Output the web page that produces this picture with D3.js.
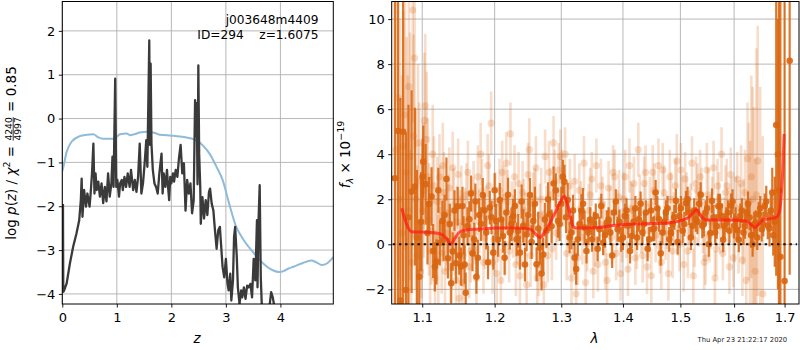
<!DOCTYPE html>
<html><head><meta charset="utf-8">
<script src="https://cdn.jsdelivr.net/npm/d3@7"></script>
<style>body{margin:0;background:#fff} svg{display:block} text{font-family:"DejaVu Sans",sans-serif}</style>
</head><body><svg id="c" width="800" height="350"></svg>
<script>
// ---------- LEFT PANEL DATA ----------
const zTicks = [0,1,2,3,4];
const lnpTicks = [-4,-3,-2,-1,0,1,2];
const priorZ = [0,0.02,0.08,0.17,0.32,0.45,0.57,0.66,0.75,0.94,1.06,1.18,1.24,1.32,1.42,1.55,1.7,1.79,2.0,2.16,2.3,2.4,2.46,2.59,2.70,2.82,2.94,3.06,3.19,3.28,3.37,3.5,3.68,3.86,3.98,4.06,4.15,4.24,4.4,4.57,4.66,4.76,4.86,4.97];
const priorV = [-1.2,-1.1,-0.76,-0.53,-0.4,-0.37,-0.36,-0.43,-0.46,-0.46,-0.36,-0.34,-0.38,-0.36,-0.32,-0.3,-0.33,-0.37,-0.39,-0.41,-0.44,-0.47,-0.5,-0.63,-0.8,-1.08,-1.4,-1.94,-2.47,-2.68,-2.85,-3.05,-3.3,-3.46,-3.5,-3.48,-3.42,-3.38,-3.3,-3.24,-3.28,-3.34,-3.3,-3.16];
const pzZ = [0.012,0.018,0.03,0.08,0.14,0.2,0.26,0.31,0.34,0.355,0.37,0.40,0.435,0.46,0.50,0.52,0.545,0.57,0.59,0.61,0.63,0.66,0.69,0.72,0.75,0.78,0.81,0.84,0.87,0.90,0.92,0.94,0.97,0.99,1.01,1.04,1.06,1.09,1.11,1.14,1.17,1.20,1.235,1.26,1.30,1.33,1.36,1.39,1.42,1.45,1.48,1.51,1.54,1.56,1.595,1.605,1.62,1.635,1.66,1.69,1.72,1.75,1.78,1.82,1.84,1.86,1.89,1.92,1.94,1.96,1.98,2.0,2.03,2.05,2.08,2.11,2.14,2.17,2.20,2.23,2.26,2.29,2.32,2.35,2.38,2.41,2.435,2.45,2.465,2.48,2.495,2.51,2.53,2.54,2.57,2.60,2.63,2.66,2.69,2.71,2.74,2.77,2.80,2.83,2.86,2.89,2.91,2.94,2.97,3.0,3.03,3.05,3.08,3.10,3.13,3.15,3.17,3.20,3.22,3.25,3.28,3.30,3.33,3.36,3.39,3.42,3.45,3.48,3.51,3.54,3.57,3.58,3.60,3.62,3.64,3.66,3.72,3.78,3.83,3.86,3.89,3.92,4.0,4.97];
const pzV = [-1.95,-3.95,-3.93,-3.76,-3.3,-2.92,-2.62,-2.32,-1.86,-1.37,-2.24,-1.63,-2.01,-1.71,-2.01,-1.71,-1.25,-0.57,-1.71,-1.25,-1.63,-1.44,-1.78,-1.48,-1.93,-1.56,-1.89,-1.25,-1.78,-1.48,-0.87,-1.56,0.91,-1.56,-1.4,-1.78,-1.48,-1.4,-1.63,-1.33,-1.56,-1.25,-1.56,-1.17,-1.63,-1.4,-1.67,-1.33,-0.57,-1.71,-1.48,-1.02,-0.49,-1.1,1.78,-0.6,1.25,-0.57,-1.17,-1.48,-1.56,-1.71,-1.25,-0.8,-1.71,-1.25,-1.56,-1.17,-1.56,-1.86,-1.33,-1.48,-1.25,-1.44,-1.17,-1.33,-0.9,-0.6,-1.25,-1.02,-2.1,-1.4,-1.71,-1.48,-2.16,-1.86,0.42,-0.4,0.35,-1.5,1.21,-0.8,-1.56,-2.4,-1.79,-2.28,-1.86,-2.2,-1.67,-1.6,-1.94,-2.09,-2.55,-2.97,-2.55,-2.47,-2.85,-3.39,-3.62,-3.2,-3.77,-3.92,-3.54,-4.15,-3.69,-2.7,-2.47,-3.16,-3.85,-4.23,-3.92,-4.08,-3.85,-4.11,-3.81,-3.85,-3.77,-4.08,-3.2,-3.69,-2.32,-3.85,-2.28,-1.52,-3.62,-4.3,-4.6,-4.5,-3.96,-4.08,-4.3,-4.6,-5.5,-6];

// ---------- RIGHT PANEL DATA ----------
const lamTicks = [1.1,1.2,1.3,1.4,1.5,1.6,1.7];
const fluxTicks = [-2,0,2,4,6,8,10];
const modelWave = [1.0732,1.086,1.1102,1.1236,1.1327,1.1381,1.1441,1.151,1.160,1.179,1.203,1.227,1.2518,1.2594,1.267,1.2746,1.2874,1.2978,1.3045,1.3108,1.3187,1.3241,1.3562,1.3834,1.4114,1.469,1.4988,1.517,1.5292,1.5384,1.5477,1.5916,1.6237,1.6335,1.640,1.6466,1.6565,1.6832,1.690,1.694,1.697,1.699];
const modelFlux = [1.6,0.56,0.53,0.47,0.27,0.0,0.27,0.56,0.64,0.68,0.72,0.72,0.68,0.5,0.3,0.56,1.23,1.82,2.14,1.67,0.78,0.72,0.74,0.83,0.89,0.93,1.04,1.23,1.53,1.23,1.08,1.08,1.04,0.86,0.74,0.86,1.08,1.2,1.5,2.4,3.6,4.9];

// grism A (solid points)
const darkWave = [1.0645,1.0685,1.0715,1.075,1.0787,1.082,1.086,1.0904,1.093,1.096,1.0985,1.1013,1.1045,1.109,1.1124,1.1168,1.119,1.1235,1.127,1.130,1.1345,1.139,1.141,1.1456,1.1479,1.1526,1.156,1.159,1.164,1.1663,1.171,1.174,1.178,1.183,1.188,1.193,1.198,1.202,1.2075,1.212,1.217,1.222,1.227,1.232,1.237,1.242,1.247,1.252,1.257,1.262,1.267,1.272,1.277,1.282,1.288,1.295,1.300,1.305,1.310,1.316,1.321,1.326,1.332,1.337,1.343,1.349,1.355,1.361,1.367,1.373,1.379,1.385,1.391,1.397,1.403,1.409,1.415,1.421,1.427,1.433,1.439,1.445,1.451,1.456,1.462,1.468,1.474,1.480,1.486,1.492,1.498,1.504,1.510,1.516,1.522,1.528,1.534,1.540,1.546,1.552,1.558,1.564,1.570,1.576,1.582,1.588,1.594,1.600,1.606,1.612,1.618,1.624,1.630,1.636,1.642,1.648,1.654,1.660,1.666,1.672,1.677,1.683,1.6915,1.700,1.7104];
const darkFlux = [2.93,5.03,-2.5,5.0,-2.03,1.2,2.34,2.56,0.3,-1.44,1.0,3.67,2.67,1.79,2.12,-1.0,-0.78,0.06,1.04,1.3,-0.62,-1.73,-0.32,-0.84,1.69,-0.99,0.4,-2.15,1.11,2.26,0.21,-1.44,1.3,2.19,0.52,1.63,-0.37,1.04,1.97,0.37,1.41,0.52,1.26,0.22,-0.37,0.82,0.44,2.19,1.04,-0.89,-0.15,-0.45,0.6,1.34,2.7,1.04,1.8,2.78,1.97,0.52,-0.6,0.22,1.5,0.74,0.52,0.22,1.26,0.67,0.07,0.96,0.52,1.41,0.67,0.22,1.26,0.82,0.37,1.6,1.11,0.52,1.41,0.22,0.67,2.3,1.11,0.52,1.41,0.22,0.9,1.93,1.26,0.6,1.82,1.41,0.82,1.11,1.8,0.82,1.41,0.0,1.93,0.52,1.69,1.26,0.82,1.41,1.71,0.82,0.64,1.26,0.52,1.41,1.19,0.0,0.96,1.34,0.67,1.71,0.82,1.5,0.4,5.3,-0.55,-1.63,8.15];
const darkErr = [9,9,9,8,7,5,4.5,3.5,3,2.5,2.2,1.6,1.8,1.2,1.3,1.1,1.0,1.0,0.9,0.9,0.9,0.9,0.85,0.9,0.85,0.85,0.85,0.9,0.8,0.8,
 0.75,0.75,0.75,0.75,0.75,0.75,0.75,0.75,0.75,0.75,0.75,0.75,0.75,0.75,0.75,0.75,0.75,0.75,0.75,0.75,0.75,0.75,0.75,0.75,0.75,0.75,0.75,0.75,0.75,0.75,0.75,0.75,0.75,0.75,
 0.55,0.55,0.55,0.55,0.55,0.55,0.55,0.55,0.55,0.55,0.55,0.55,0.55,0.55,0.55,0.55,0.55,0.55,0.55,0.55,0.55,0.55,0.55,0.55,0.55,0.55,0.55,0.55,0.55,0.55,0.55,0.55,0.55,0.55,0.55,0.55,0.55,0.55,0.55,0.55,0.55,0.55,0.55,0.55,0.55,0.55,0.55,0.55,0.55,0.55,0.55,0.55,0.55,0.55,
 0.6,0.7,0.9,6.7,15,15,9.5];
const darkWave2 = [1.1005,1.107,1.1145,1.1215,1.1285,1.1325,1.137,1.1435,1.150,1.1545,1.1575,1.1615,1.1685,1.1725,1.176,1.1805,1.1855,1.1905,1.1955,1.200,1.205,1.2095,1.2145,1.2195,1.2245,1.2295,1.2345,1.2395,1.2445,1.2495,1.2545,1.2595,1.2645,1.2695,1.2745,1.2795,1.285,1.2915,1.2975,1.3025,1.3075,1.313,1.3185,1.3235,1.329,1.3345,1.340,1.346,1.352,1.358,1.364,1.370,1.376,1.382,1.388,1.394,1.400,1.406,1.412,1.418,1.424,1.430,1.436,1.442,1.448,1.4535,1.459,1.465,1.471,1.477,1.483,1.489,1.495,1.501,1.507,1.513,1.519,1.525,1.531,1.537,1.543,1.549,1.555,1.561,1.567,1.573,1.579,1.585,1.591,1.597,1.603,1.609,1.615,1.621,1.627,1.633,1.639,1.645,1.651,1.657,1.663,1.6695,1.675,1.680,1.6865,1.6885];
const darkFlux2 = [3.0,0.5,-0.3,2.4,0.2,2.9,0.9,1.5,-0.5,1.7,-0.9,0.8,-0.4,1.9,-0.6,0.9,1.5,-0.8,1.2,2.4,0.2,1.1,-0.6,2.2,0.9,1.7,0.6,1.9,-0.9,1.3,0.1,1.8,0.7,-1.3,1.1,2.0,0.8,2.4,0.9,3.0,1.2,0.3,1.5,-1.1,0.9,1.8,-0.3,1.1,0.9,-0.2,1.7,0.4,1.1,-0.5,1.9,1.0,0.3,1.5,-0.3,1.0,0.3,1.8,0.9,-0.2,1.5,0.7,1.6,-0.4,1.0,1.6,0.5,1.2,0.1,1.6,0.9,2.0,0.3,1.5,1.0,2.2,0.9,1.6,0.5,1.2,0.8,1.7,0.2,1.1,0.6,1.9,1.1,0.2,1.5,0.8,1.8,0.4,0.9,0.3,1.6,0.9,1.9,0.7,2.3,1.0,4.0,2.4];
const darkErr2 = [1.7,1.4,1.2,1.0,0.95,0.95,0.9,0.9,0.85,0.85,0.85,0.85,0.8,0.8,0.8,0.75,0.75,0.75,0.75,0.75,
 0.75,0.75,0.75,0.75,0.75,0.75,0.75,0.75,0.75,0.75,0.75,0.75,0.75,0.75,0.75,0.75,0.75,0.75,0.75,0.75,
 0.7,0.7,0.7,0.7,0.7,0.7,
 0.55,0.55,0.55,0.55,0.55,0.55,0.55,0.55,0.55,0.55,0.55,0.55,0.55,0.55,0.55,0.55,0.55,0.55,0.55,0.55,0.55,0.55,0.55,0.55,0.55,0.55,0.55,0.55,0.55,0.55,0.55,0.55,0.55,0.55,0.55,0.55,0.55,0.55,0.55,0.55,0.55,0.55,0.55,0.55,0.55,0.55,0.55,0.55,0.55,0.55,0.55,0.55,0.55,0.55,
 0.7,0.8,1.1,2.0,6,9];

// grism B (faint points)
const lightWave = [1.066,1.071,1.0755,1.0775,1.081,1.084,1.0875,1.090,1.093,1.096,1.099,1.102,1.104,1.106,1.109,1.112,1.114,1.117,1.120,1.123,1.126,1.129,1.132,1.135,1.138,1.141,1.144,1.147,1.150,1.153,1.156,1.160,1.164,1.168,1.172,1.176,1.180,1.184,1.188,1.192,1.195,1.199,1.203,1.207,1.211,1.215,1.219,1.223,1.227,1.231,1.235,1.239,1.243,1.247,1.251,1.255,1.259,1.263,1.267,1.271,1.275,1.279,1.283,1.288,1.292,1.296,1.301,1.306,1.311,1.316,1.321,1.326,1.331,1.336,1.341,1.346,1.351,1.356,1.361,1.366,1.371,1.376,1.381,1.386,1.391,1.396,1.401,1.406,1.411,1.416,1.421,1.426,1.431,1.436,1.441,1.446,1.451,1.456,1.461,1.466,1.471,1.476,1.481,1.486,1.491,1.496,1.501,1.506,1.511,1.516,1.521,1.526,1.531,1.536,1.541,1.546,1.551,1.556,1.561,1.566,1.571,1.576,1.581,1.586,1.591,1.596,1.601,1.606,1.611,1.616,1.621,1.626,1.631,1.636,1.641,1.646,1.651,1.656,1.661,1.666,1.671,1.676,1.681,1.687,1.689,1.692,1.696,1.699];
const lightFlux = [4.2,2.0,4.35,5.75,1.5,3.9,10.4,8.27,-0.5,2.8,0.8,2.4,6.15,4.66,1.1,0.6,4.0,-1.5,1.9,3.0,-0.4,2.3,0.5,1.4,-1.0,3.4,0.2,1.0,-2.4,2.0,-0.5,2.2,-1.0,1.6,0.5,3.0,4.0,-0.8,1.2,2.6,5.38,0.2,-1.3,2.4,3.2,0.0,1.9,4.9,0.8,-0.9,2.7,0.4,1.5,-1.8,4.2,0.9,2.0,-1.5,1.3,0.1,3.9,-0.5,2.2,4.5,0.5,3.3,3.0,4.0,1.0,-1.5,2.8,-0.6,1.6,3.6,0.0,2.2,-1.2,3.5,0.9,1.8,-0.8,2.5,0.3,3.0,1.2,-1.3,2.0,0.6,3.5,1.5,-0.6,4.2,0.8,2.7,-1.0,1.8,3.2,0.4,3.5,-0.8,2.3,1.0,3.0,-0.3,2.6,0.7,3.3,-0.9,2.0,1.2,3.6,0.2,2.4,3.0,0.8,-0.6,2.2,1.0,3.4,-0.2,2.0,4.0,0.9,2.6,-1.0,1.8,0.4,2.9,1.3,-0.7,2.3,3.8,0.6,2.0,-1.2,3.7,1.0,-2.2,2.4,0.3,3.0,4.4,8.2,7.8,6.3,2.0,4.8,-1.8];
const lightErr = [8,8,6,6,6,5.5,5,4,4,3.5,3.2,3,3.2,3,2.5,2.4,2.2,2.1,2.0,1.9,1.8,1.8,1.7,1.7,1.6,1.6,1.6,1.6,1.5,1.5,
 1.4,1.4,1.4,1.4,1.4,1.4,1.4,1.4,1.4,1.4,1.4,1.4,1.4,1.4,1.4,1.4,1.4,1.4,1.4,1.4,1.4,1.4,1.4,1.4,1.4,1.4,1.4,1.4,1.4,1.4,
 1.2,1.2,1.2,1.2,1.2,1.2,1.2,1.2,1.2,1.2,1.2,1.2,1.2,1.2,1.2,1.2,1.2,1.2,1.2,1.2,1.2,1.2,1.2,1.2,1.2,1.2,1.2,1.2,1.2,1.2,1.2,1.2,1.2,1.2,1.2,1.2,1.2,1.2,1.2,1.2,1.2,1.2,1.2,1.2,1.2,1.2,1.2,1.2,1.2,1.2,1.2,1.2,1.2,1.2,1.2,1.2,1.2,1.2,1.2,1.2,1.2,1.2,1.2,1.2,1.2,1.2,1.2,1.2,
 1.4,1.6,1.9,2.5,4,5,5,6,6,7];
const lightWave2 = [1.0685,1.0735,1.0795,1.0825,1.0855,1.0885,1.0915,1.0945,1.0975,1.1005,1.103,1.1075,1.1105,1.1155,1.1185,1.1215,1.1245,1.1275,1.1305,1.1335,1.1365,1.1395,1.1425,1.1455,1.1485,1.1515,1.1545,1.158,1.162,1.166,1.170,1.174,1.178,1.182,1.186,1.190,1.197,1.201,1.205,1.209,1.213,1.217,1.221,1.225,1.229,1.233,1.237,1.241,1.245,1.249,1.253,1.257,1.261,1.265,1.269,1.273,1.277,1.281,1.2855,1.290,1.294,1.2985,1.3035,1.3085,1.3135,1.3185,1.3235,1.3285,1.3335,1.3385,1.3435,1.3485,1.3535,1.3585,1.3635,1.3685,1.3735,1.3785,1.3835,1.3885,1.3935,1.3985,1.4035,1.4085,1.4135,1.4185,1.4235,1.4285,1.4335,1.4385,1.4435,1.4485,1.4535,1.4585,1.4635,1.4685,1.4735,1.4785,1.4835,1.4885,1.4935,1.4985,1.5035,1.5085,1.5135,1.5185,1.5235,1.5285,1.5335,1.5385,1.5435,1.5485,1.5535,1.5585,1.5635,1.5685,1.5735,1.5785,1.5835,1.5885,1.5935,1.5985,1.6035,1.6085,1.6135,1.6185,1.6235,1.6285,1.6335,1.6385,1.6435,1.6485,1.6535,1.6585,1.6635,1.6685,1.6735,1.6785,1.6835,1.6905,1.6945];
const lightFlux2 = [6.5,0.5,3.2,7.0,-0.8,4.8,2.0,4.5,-1.2,1.5,5.5,3.0,-0.3,2.6,0.3,-0.7,1.5,3.5,-1.2,0.9,2.5,-0.2,1.7,-1.6,3.1,0.8,-1.7,1.0,3.2,-0.3,2.3,-1.5,1.0,2.4,0.3,3.5,-0.8,1.8,0.6,-1.6,2.1,3.6,-0.3,1.4,3.0,0.5,-1.4,2.3,0.9,3.1,-0.5,1.8,3.4,-0.9,2.0,-1.8,1.2,3.2,-0.2,2.8,1.3,3.9,2.0,-0.4,2.6,0.6,-2.2,2.4,0.3,-1.7,1.5,2.9,0.2,-0.9,2.6,0.7,-1.6,1.4,3.2,-0.4,2.1,0.4,3.0,-1.1,1.6,2.7,0.1,1.9,-0.5,3.2,0.6,-1.4,2.4,1.2,-0.1,3.3,0.5,-1.3,2.0,1.1,3.7,0.0,1.9,2.9,-0.3,1.5,-1.4,2.7,1.1,2.2,-0.8,3.3,0.4,1.8,-1.5,2.6,0.8,-0.4,2.3,1.3,3.1,-0.6,1.6,0.2,2.7,1.0,-1.6,1.9,3.0,0.1,2.2,-0.4,1.5,2.8,-1.0,1.8,6.0,2.5,0.0,7.0,4.2];
const lightErr2 = [8,7,6,5.5,5,4.5,4,3.5,3.2,3,3,2.6,2.4,2.2,2.1,2.0,2.0,1.9,1.9,1.8,1.8,1.8,1.7,1.7,1.6,1.6,1.5,1.5,1.4,1.4,
 1.4,1.4,1.4,1.4,1.4,1.4,1.4,1.4,1.4,1.4,1.4,1.4,1.4,1.4,1.4,1.4,1.4,1.4,1.4,1.4,1.4,1.4,1.4,1.4,1.4,1.4,1.4,1.4,1.4,1.4,
 1.2,1.2,1.2,1.2,1.2,1.2,1.2,1.2,1.2,1.2,1.2,1.2,1.2,1.2,1.2,1.2,1.2,1.2,1.2,1.2,1.2,1.2,1.2,1.2,1.2,1.2,1.2,1.2,1.2,1.2,1.2,1.2,1.2,1.2,1.2,1.2,1.2,1.2,1.2,1.2,1.2,1.2,1.2,1.2,1.2,1.2,1.2,1.2,1.2,1.2,1.2,1.2,1.2,1.2,1.2,1.2,1.2,1.2,1.2,1.2,1.2,
 1.3,1.4,1.5,1.7,1.9,2.6,3.5,4.5,6,6.5];

// ---------- DRAW ----------
const svg = d3.select("#c");
const L = {x0:62.3, x1:333.3, y0:1.5, y1:304};
const R = {x0:391.7, x1:799, y0:1.5, y1:304};
const xL = d3.scaleLinear().domain([0,4.97]).range([L.x0,L.x1]);
const yL = d3.scaleLinear().domain([-4.23,2.67]).range([L.y1,L.y0]);
const xR = d3.scaleLog().domain([1.0604,1.7297]).range([R.x0,R.x1]);
const yR = d3.scaleLinear().domain([-2.65,10.78]).range([R.y1,R.y0]);
const orange = "#d9650f";
const grid = "#b0b0b0";

const defs = svg.append("defs");
defs.append("clipPath").attr("id","cl").append("rect").attr("x",L.x0).attr("y",L.y0).attr("width",L.x1-L.x0).attr("height",L.y1-L.y0);
defs.append("clipPath").attr("id","cr").append("rect").attr("x",R.x0).attr("y",R.y0).attr("width",R.x1-R.x0).attr("height",R.y1-R.y0);

function gridlines(P, xs, ys, xT, yT){
  const g = svg.append("g").attr("stroke",grid).attr("stroke-width",0.9);
  g.selectAll(".gx").data(xT).join("line").attr("x1",d=>xs(d)).attr("x2",d=>xs(d)).attr("y1",P.y0).attr("y2",P.y1);
  g.selectAll(".gy").data(yT).join("line").attr("y1",d=>ys(d)).attr("y2",d=>ys(d)).attr("x1",P.x0).attr("x2",P.x1);
}
gridlines(L,xL,yL,zTicks,lnpTicks);
gridlines(R,xR,yR,lamTicks,fluxTicks);

// left curves
const gl = svg.append("g").attr("clip-path","url(#cl)");
gl.append("path").datum(d3.zip(priorZ,priorV)).attr("fill","none").attr("stroke","#8fbbd9").attr("stroke-width",2)
  .attr("d",d3.line().x(d=>xL(d[0])).y(d=>yL(d[1])).curve(d3.curveMonotoneX));
gl.append("path").datum(d3.zip(pzZ,pzV)).attr("fill","none").attr("stroke","#3a3a3a").attr("stroke-width",2.3).attr("stroke-linejoin","round")
  .attr("d",d3.line().x(d=>xL(d[0])).y(d=>yL(d[1])));

// right spectrum
const gr = svg.append("g").attr("clip-path","url(#cr)");
const light = d3.zip(lightWave,lightFlux,lightErr).concat(d3.zip(lightWave2,lightFlux2,lightErr2));
const dark = d3.zip(darkWave,darkFlux,darkErr).concat(d3.zip(darkWave2,darkFlux2,darkErr2));
light.forEach(d=>{
  gr.append("line").attr("x1",xR(d[0])).attr("x2",xR(d[0])).attr("y1",yR(d[1]-d[2])).attr("y2",yR(d[1]+d[2]))
    .attr("stroke",orange).attr("stroke-width",2.6).attr("stroke-opacity",0.22);
  gr.append("circle").attr("cx",xR(d[0])).attr("cy",yR(d[1])).attr("r",3.6).attr("fill",orange).attr("fill-opacity",0.22);
});
const dg = gr.append("g");
dg.selectAll("line").data(dark).join("line").attr("x1",d=>xR(d[0])).attr("x2",d=>xR(d[0]))
  .attr("y1",d=>yR(d[1]-d[2])).attr("y2",d=>yR(d[1]+d[2])).attr("stroke",orange).attr("stroke-width",2.2).attr("stroke-opacity",0.88);
dg.selectAll("circle").data(dark).join("circle").attr("cx",d=>xR(d[0])).attr("cy",d=>yR(d[1])).attr("r",3.3).attr("fill",orange).attr("fill-opacity",0.9);
gr.append("path").datum(d3.zip(modelWave,modelFlux)).attr("fill","none").attr("stroke","#ff1a10").attr("stroke-opacity",0.72).attr("stroke-width",3)
  .attr("stroke-linejoin","round").attr("d",d3.line().x(d=>xR(d[0])).y(d=>yR(d[1])).curve(d3.curveMonotoneX));
gr.append("line").attr("x1",xR(1.0604)+1).attr("x2",xR(1.7297)-2).attr("y1",yR(0)).attr("y2",yR(0))
  .attr("stroke","#111").attr("stroke-width",2).attr("stroke-dasharray","2.4,3.8");

// frames
[L,R].forEach(P=>svg.append("rect").attr("x",P.x0).attr("y",P.y0).attr("width",P.x1-P.x0).attr("height",P.y1-P.y0)
  .attr("fill","none").attr("stroke","#000").attr("stroke-width",1));

// axes
function styleAxis(g){ g.select(".domain").remove(); g.selectAll("text").attr("font-size",13).attr("font-family","DejaVu Sans").attr("fill","#000");
  g.selectAll("line").attr("stroke","#000").attr("stroke-width",0.9); }
svg.append("g").attr("transform",`translate(0,${L.y1})`).call(d3.axisBottom(xL).tickValues(zTicks).tickSize(3.5).tickPadding(5.5).tickFormat(d3.format("d"))).call(styleAxis);
svg.append("g").attr("transform",`translate(${L.x0},0)`).call(d3.axisLeft(yL).tickValues(lnpTicks).tickSize(3.5).tickPadding(3.5).tickFormat(d3.format("d"))).call(styleAxis);
svg.append("g").attr("transform",`translate(0,${R.y1})`).call(d3.axisBottom(xR).tickValues(lamTicks).tickSize(3.5).tickPadding(5.5).tickFormat(d3.format(".1f"))).call(styleAxis);
svg.append("g").attr("transform",`translate(${R.x0},0)`).call(d3.axisLeft(yR).tickValues(fluxTicks).tickSize(3.5).tickPadding(3.5).tickFormat(d3.format("d"))).call(styleAxis);

// annotation
const ann = svg.append("text").attr("text-anchor","end").attr("font-size",12.2).attr("fill","#000").style("white-space","pre");
ann.append("tspan").attr("x",318.5).attr("y",24).text("j003648m4409");
ann.append("tspan").attr("x",318.5).attr("y",38.5).text("ID=294    z=1.6075");

// x labels
svg.append("text").attr("x",197).attr("y",343).attr("text-anchor","middle").attr("font-size",13.5).attr("font-style","italic").text("z");
svg.append("text").attr("x",594.5).attr("y",343).attr("text-anchor","middle").attr("font-size",13.5).attr("font-style","italic").text("λ");

// left y label with fraction
(function(){
  const outer = svg.append("g").attr("transform","translate(15.8,153) rotate(-90)");
  const inner = outer.append("g");
  const fs = 13.5;
  const t1 = inner.append("text").attr("font-size",fs).attr("x",0).attr("y",0).style("white-space","pre");
  t1.append("tspan").text("log ");
  t1.append("tspan").attr("font-style","italic").text("p");
  t1.append("tspan").text("(");
  t1.append("tspan").attr("font-style","italic").text("z");
  t1.append("tspan").text(") / ");
  t1.append("tspan").attr("font-style","italic").text("χ");
  t1.append("tspan").attr("font-size",9.5).attr("dy",-5.5).text("2");
  t1.append("tspan").attr("dy",5.5).text(" = ");
  const w1 = t1.node().getComputedTextLength();
  const ffs = 9.2;
  const num = inner.append("text").attr("font-size",ffs).attr("y",-4.2).attr("text-anchor","middle").text("4240");
  const den = inner.append("text").attr("font-size",ffs).attr("y",5.2).attr("text-anchor","middle").text("4997");
  const fw = Math.max(num.node().getComputedTextLength(), den.node().getComputedTextLength());
  const fx = w1 + 1 + fw/2;
  num.attr("x",fx); den.attr("x",fx);
  inner.append("line").attr("x1",w1+1).attr("x2",w1+1+fw).attr("y1",-2.6).attr("y2",-2.6).attr("stroke","#000").attr("stroke-width",0.8);
  const t3 = inner.append("text").attr("font-size",fs).attr("x",w1+2+fw).attr("y",0).style("white-space","pre").text(" = 0.85");
  const total = w1 + 2 + fw + t3.node().getComputedTextLength();
  inner.attr("transform",`translate(${-total/2},0)`);
})();

// right y label
(function(){
  const outer = svg.append("g").attr("transform","translate(349.5,154.5) rotate(-90)");
  const t = outer.append("text").attr("font-size",13.5).attr("text-anchor","middle").style("white-space","pre");
  t.append("tspan").attr("font-style","italic").text("f");
  t.append("tspan").attr("font-style","italic").attr("font-size",9.5).attr("dy",3).text("λ");
  t.append("tspan").attr("dy",-3).text(" × 10");
  t.append("tspan").attr("font-size",9.5).attr("dy",-6).text("−19");
})();

// timestamp
svg.append("text").attr("x",697.5).attr("y",342).attr("font-size",6.8).attr("fill","#222").text("Thu Apr 23 21:22:17 2020");
</script></body></html>
